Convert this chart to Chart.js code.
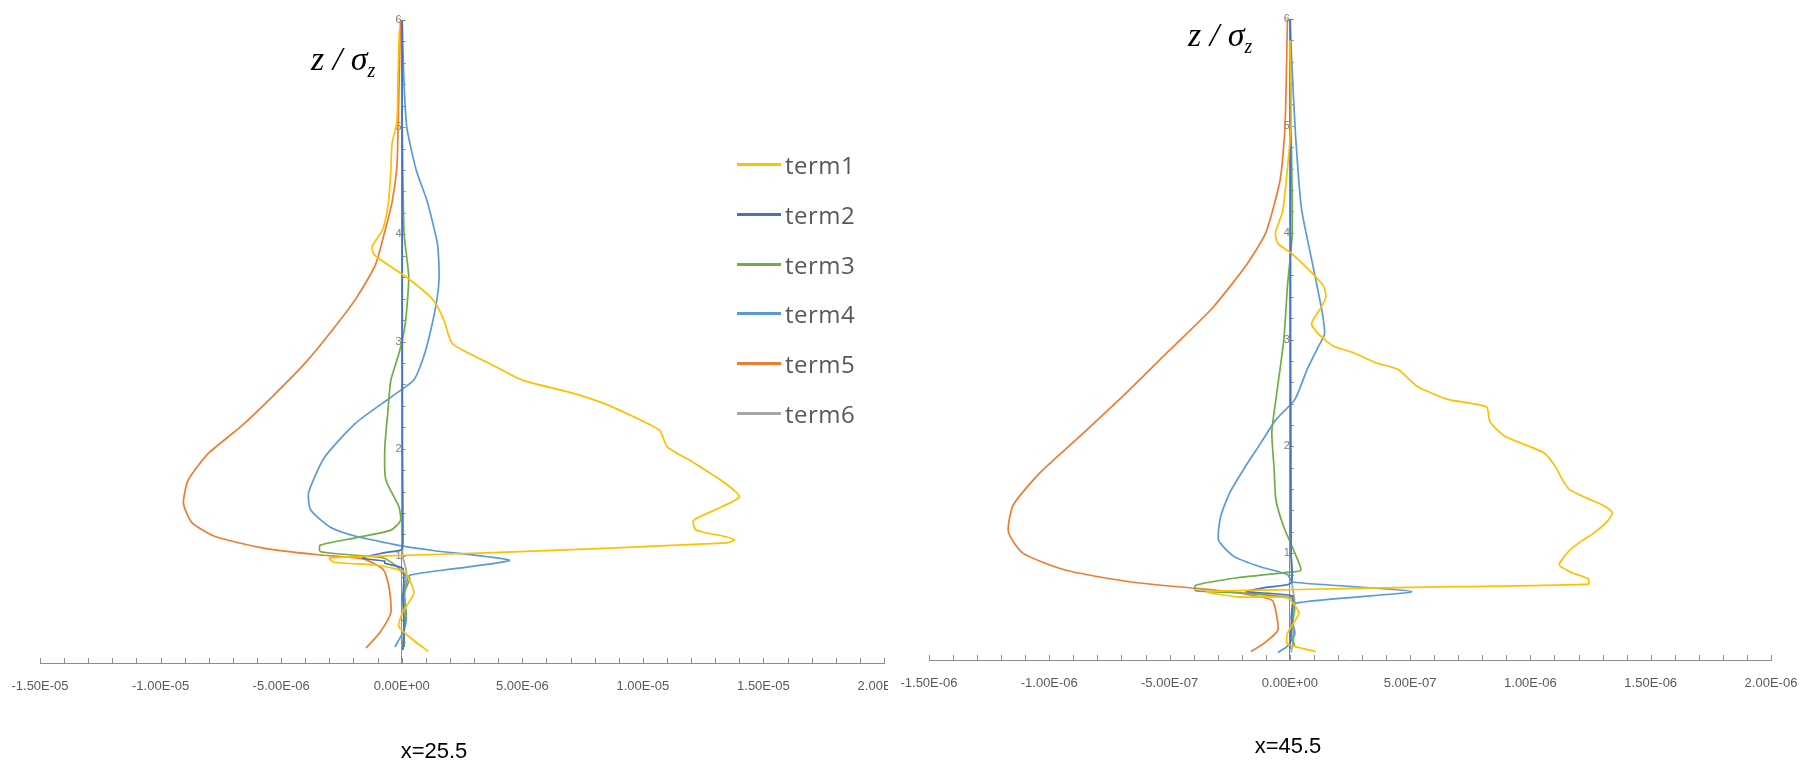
<!DOCTYPE html>
<html>
<head>
<meta charset="utf-8">
<script src="https://cdn.jsdelivr.net/npm/chart.js@4.4.0/dist/chart.umd.min.js"></script>
<style>
  html, body { margin: 0; padding: 0; background: #fff; }
  #page { position: relative; width: 1806px; height: 764px; overflow: hidden; background: #fff; }
  canvas { position: absolute; top: 0; }
  #c25 { left: 0; }
  #c45 { left: 888px; }
  .zlabel { position: absolute; font-family: 'Liberation Serif', 'DejaVu Serif', serif; font-style: italic;
            font-size: 34px; line-height: 1; color: #000; white-space: nowrap; }
  .zlabel sub { font-size: 20px; vertical-align: -7px; }
  .caption { position: absolute; font-family: 'Liberation Sans', Arial, sans-serif; font-size: 22px;
             line-height: 1; color: #000; white-space: nowrap; transform: translateX(-50%); }
  #legend { position: absolute; left: 737px; top: 0; font-family: 'Open Sans', sans-serif;
            font-size: 24px; color: #595959; letter-spacing: 0.5px; }
  #legend .row { position: absolute; left: 0; height: 32px; display: flex; align-items: center; white-space: nowrap; }
  #legend .swatch { width: 44px; height: 3px; margin-right: 4px; }
</style>
</head>
<body>
<div id="page">
  <canvas id="c25" width="888" height="764"></canvas>
  <canvas id="c45" width="918" height="764"></canvas>
  <div class="zlabel" style="left:311px; top:42px;">z / σ<sub>z</sub></div>
  <div class="zlabel" style="left:1188px; top:18px;">z / σ<sub>z</sub></div>
  <div class="caption" style="left:434px; top:740px;">x=25.5</div>
  <div class="caption" style="left:1288px; top:735px;">x=45.5</div>
  <div id="legend"></div>
</div>
<script>
// ---- series names and colours ----
const termLabels = ['term1', 'term2', 'term3', 'term4', 'term5', 'term6'];
const termColors = ['#FFC000', '#4472C4', '#70AD47', '#5B9BD5', '#ED7D31', '#A5A5A5'];

// ---- x = 25.5 : profiles, z/sigma_z and value (in units of 1e-6) ----
const unit25 = 1e-6;
const t1z_25 = [5.9, 5.5, 5.05, 4.85, 4.6, 4.3, 4.05, 3.88, 3.8, 3.6, 3.39, 3.2, 2.98, 2.8, 2.64, 2.53, 2.43, 2.3, 2.17, 2.02, 1.87, 1.68, 1.55, 1.43, 1.33, 1.24, 1.18, 1.15, 1.12, 1.03, 1.0, 0.98, 0.94, 0.91, 0.85, 0.77, 0.65, 0.47, 0.34, 0.21, 0.11];
const t1v_25 = [-0.1, -0.15, -0.2, -0.4, -0.45, -0.55, -0.78, -1.24, -1.1, 0.2, 1.3, 1.75, 2.1, 3.6, 5.0, 6.9, 8.3, 9.6, 10.7, 11.0, 12.1, 13.4, 14.0, 13.0, 12.1, 12.2, 13.4, 13.8, 13.5, 3.8, -0.6, -3.0, -2.8, -0.9, 0.1, 0.34, 0.5, 0.03, -0.12, 0.5, 1.1];
const t2z_25 = [6.0, 4.0, 2.0, 1.2, 1.06, 1.03, 0.98, 0.95, 0.93, 0.88, 0.6, 0.3, 0.12];
const t2v_25 = [0.02, 0.02, 0.03, 0.05, 0.0, -0.7, -1.65, -0.7, -0.7, 0.05, 0.05, 0.1, 0.05];
const t3z_25 = [6.0, 5.0, 4.5, 4.0, 3.6, 3.17, 2.9, 2.64, 2.33, 2.01, 1.71, 1.46, 1.33, 1.24, 1.17, 1.1, 1.04, 1.01, 0.98, 0.9, 0.84, 0.79, 0.62, 0.47, 0.3, 0.15];
const t3v_25 = [0.0, 0.02, 0.05, 0.1, 0.29, 0.15, -0.1, -0.45, -0.58, -0.7, -0.66, -0.12, -0.05, -0.45, -1.87, -3.38, -3.38, -2.19, -0.76, -0.2, 0.03, 0.34, 0.03, 0.19, 0.1, 0.11];
const t4z_25 = [6.0, 5.5, 5.0, 4.6, 4.32, 4.0, 3.88, 3.6, 3.39, 3.1, 2.85, 2.64, 2.48, 2.24, 1.92, 1.59, 1.43, 1.27, 1.18, 1.12, 1.09, 1.05, 0.96, 0.88, 0.82, 0.75, 0.62, 0.4, 0.28, 0.15];
const t4v_25 = [0.02, 0.08, 0.21, 0.6, 1.04, 1.4, 1.5, 1.55, 1.46, 1.2, 0.9, 0.5, -0.45, -1.9, -3.2, -3.86, -3.78, -2.98, -1.87, -0.6, 0.05, 1.3, 4.47, 2.2, 0.34, 0.2, 0.11, 0.19, 0.03, -0.28];
const t5z_25 = [6.0, 5.5, 5.0, 4.63, 4.3, 4.01, 3.71, 3.4, 3.1, 2.8, 2.5, 2.2, 1.96, 1.71, 1.49, 1.31, 1.18, 1.07, 1.01, 0.97, 0.87, 0.71, 0.47, 0.28, 0.14];
const t5v_25 = [-0.05, -0.1, -0.15, -0.2, -0.4, -0.72, -1.1, -1.9, -2.9, -4.0, -5.3, -6.7, -8.0, -8.85, -9.05, -8.7, -7.74, -5.68, -3.47, -1.57, -0.76, -0.53, -0.45, -0.92, -1.48];
const t6z_25 = [6.0, 4.0, 2.0, 1.0, 0.85, 0.7, 0.5, 0.3, 0.12];
const t6v_25 = [0.0, 0.01, 0.02, 0.04, 0.2, 0.1, 0.15, 0.08, 0.02];

// ---- x = 45.5 : profiles, z/sigma_z and value (in units of 1e-7) ----
const unit45 = 1e-7;
const t1z_45 = [5.8, 5.3, 5.0, 4.6, 4.2, 4.0, 3.9, 3.8, 3.65, 3.5, 3.4, 3.3, 3.15, 3.05, 2.94, 2.88, 2.78, 2.72, 2.56, 2.44, 2.37, 2.24, 2.18, 2.09, 1.94, 1.81, 1.7, 1.6, 1.52, 1.45, 1.38, 1.3, 1.2, 1.11, 1.02, 0.89, 0.82, 0.76, 0.71, 0.68, 0.66, 0.64, 0.59, 0.58, 0.44, 0.25, 0.15, 0.08];
const t1v_45 = [0.0, 0.05, 0.05, -0.1, -0.3, -0.6, -0.5, 0.1, 0.8, 1.4, 1.5, 1.3, 0.9, 1.2, 1.8, 2.6, 3.6, 4.5, 5.3, 6.57, 8.17, 8.3, 8.5, 8.97, 10.56, 11.04, 11.3, 11.6, 12.3, 13.0, 13.4, 13.2, 12.7, 12.1, 11.6, 11.2, 11.7, 12.4, 12.4, 5.0, 0.37, -3.45, -2.16, -0.1, 0.37, -0.1, -0.1, 1.08];
const t2z_45 = [6.0, 3.0, 1.0, 0.72, 0.68, 0.64, 0.6, 0.5, 0.3, 0.1];
const t2v_45 = [0.02, 0.03, 0.05, 0.05, -1.0, -1.8, 0.1, 0.1, 0.05, 0.0];
const t3z_45 = [6.0, 5.0, 4.0, 3.5, 3.0, 2.44, 2.13, 1.81, 1.5, 1.25, 1.0, 0.84, 0.82, 0.77, 0.7, 0.65, 0.63, 0.58, 0.5, 0.25, 0.13];
const t3v_45 = [0.0, 0.05, 0.1, -0.1, -0.25, -0.58, -0.75, -0.66, -0.58, -0.26, 0.21, 0.46, -0.1, -2.16, -3.92, -3.92, -2.16, 0.06, 0.21, 0.06, 0.2];
const t4z_45 = [6.0, 5.5, 4.9, 4.23, 3.69, 3.26, 3.05, 2.94, 2.72, 2.44, 2.25, 2.03, 1.81, 1.57, 1.34, 1.12, 0.97, 0.87, 0.8, 0.73, 0.64, 0.53, 0.4, 0.25, 0.13, 0.07];
const t4v_45 = [0.0, 0.1, 0.24, 0.48, 0.96, 1.34, 1.44, 1.2, 0.72, 0.21, -0.58, -1.21, -1.85, -2.49, -2.88, -2.96, -2.33, -1.2, -0.1, 0.12, 5.07, 0.21, 0.06, 0.21, -0.1, -0.5];
const t5z_45 = [6.0, 5.0, 4.5, 4.0, 3.7, 3.3, 2.9, 2.5, 2.1, 1.75, 1.45, 1.2, 1.0, 0.84, 0.73, 0.67, 0.63, 0.56, 0.44, 0.28, 0.16, 0.08];
const t5v_45 = [-0.1, -0.2, -0.4, -1.0, -1.8, -3.2, -5.0, -6.8, -8.7, -10.4, -11.5, -11.7, -11.1, -9.3, -6.6, -3.9, -2.2, -0.74, -0.57, -0.5, -1.05, -1.62];
const t6z_45 = [6.0, 4.0, 2.0, 1.0, 0.7, 0.55, 0.4, 0.2, 0.07];
const t6v_45 = [0.0, 0.01, 0.02, 0.05, 0.1, 0.2, 0.1, 0.15, 0.05];

// ---- axis ranges and tick steps ----
const xRange25 = [-1.5e-5, 2.0e-5], xStep25 = 1e-6;
const xRange45 = [-1.5e-6, 2.0e-6], xStep45 = 1e-7;
const zRange = [0, 6], zStep = 0.2;
const majorEvery = 5;

// scientific labels in the "1.50E-05" style
function sci(v) {
  if (Math.abs(v) < 1e-20) return '0.00E+00';
  const parts = v.toExponential(2).split('e');
  const e = parseInt(parts[1], 10);
  return parts[0] + 'E' + (e < 0 ? '-' : '+') + String(Math.abs(e)).padStart(2, '0');
}

function stepValues(lo, hi, step) {
  const n = Math.round((hi - lo) / step);
  const out = [];
  for (let i = 0; i <= n; i++) out.push(Number((lo + i * step).toPrecision(12)));
  return out;
}

// the axes cross inside the plot, so their labels must not shrink the plot area
function noLabelPadding(scale) {
  scale.paddingLeft = 0;
  scale.paddingRight = 0;
  scale.paddingTop = 0;
  scale.paddingBottom = 0;
}

// short tick marks: upward on the horizontal axis, to the right on the vertical one
const axisTickMarks = {
  id: 'axisTickMarks',
  beforeDatasetsDraw(chart) {
    const { ctx } = chart;
    const xs = chart.scales.x, ys = chart.scales.y;
    const baseY = ys.getPixelForValue(0);
    const baseX = xs.getPixelForValue(0);
    ctx.save();
    ctx.strokeStyle = '#8c8c8c';
    ctx.lineWidth = 1;
    ctx.beginPath();
    xs.ticks.forEach(t => {
      const px = Math.round(xs.getPixelForValue(t.value)) + 0.5;
      ctx.moveTo(px, baseY);
      ctx.lineTo(px, baseY - 5);
    });
    ys.ticks.forEach(t => {
      if (t.value <= 0) return;
      const py = Math.round(ys.getPixelForValue(t.value)) + 0.5;
      ctx.moveTo(baseX, py);
      ctx.lineTo(baseX + 4, py);
    });
    ctx.stroke();
    ctx.restore();
  }
};

function buildSeries(zs, vs, unit) {
  return zs.map((z, k) => ({
    label: termLabels[k],
    borderColor: termColors[k],
    backgroundColor: termColors[k],
    data: z.map((zz, i) => ({ x: vs[k][i] * unit, y: zz })),
    showLine: true,
    borderWidth: 1.7,
    tension: 0.2,
    pointRadius: 0,
    pointHoverRadius: 0
  }));
}

function makeChart(canvasId, datasets, xRange, xStep, padding) {
  const xTicks = stepValues(xRange[0], xRange[1], xStep);
  const zTicks = stepValues(zRange[0], zRange[1], zStep);
  return new Chart(document.getElementById(canvasId), {
    type: 'scatter',
    data: { datasets },
    options: {
      responsive: false,
      animation: false,
      devicePixelRatio: 1,
      layout: { autoPadding: false, padding },
      plugins: { legend: { display: false }, tooltip: { enabled: false } },
      scales: {
        x: {
          type: 'linear',
          position: { y: 0 },
          min: xRange[0],
          max: xRange[1],
          afterBuildTicks: s => { s.ticks = xTicks.map(v => ({ value: v })); },
          afterFit: noLabelPadding,
          ticks: {
            autoSkip: false,
            maxRotation: 0,
            minRotation: 0,
            padding: 16,
            color: '#595959',
            font: { family: "'Liberation Sans', Arial, sans-serif", size: 13 },
            callback: (v, i) => (i % majorEvery === 0 ? sci(v) : '')
          },
          grid: { display: true, drawOnChartArea: false, drawTicks: false },
          border: { display: true, color: '#8c8c8c', width: 1 }
        },
        y: {
          type: 'linear',
          position: { x: 0 },
          min: zRange[0],
          max: zRange[1],
          afterBuildTicks: s => { s.ticks = zTicks.map(v => ({ value: v })); },
          afterFit: noLabelPadding,
          ticks: {
            autoSkip: false,
            padding: 0,
            color: '#7f7f7f',
            font: { family: "'Liberation Sans', Arial, sans-serif", size: 11 },
            callback: v => {
              const r = Math.round(v);
              return (Math.abs(v - r) < 1e-9 && r > 0) ? String(r) : '';
            }
          },
          grid: { display: true, drawOnChartArea: false, drawTicks: false },
          border: { display: true, color: '#8c8c8c', width: 1 }
        }
      }
    },
    plugins: [axisTickMarks]
  });
}

const chart25 = makeChart('c25',
  buildSeries([t1z_25, t2z_25, t3z_25, t4z_25, t5z_25, t6z_25],
              [t1v_25, t2v_25, t3v_25, t4v_25, t5v_25, t6v_25], unit25),
  xRange25, xStep25, { left: 40, right: 4, top: 20, bottom: 101 });

const chart45 = makeChart('c45',
  buildSeries([t1z_45, t2z_45, t3z_45, t4z_45, t5z_45, t6z_45],
              [t1v_45, t2v_45, t3v_45, t4v_45, t5v_45, t6v_45], unit45),
  xRange45, xStep45, { left: 41, right: 35, top: 19, bottom: 104 });

// legend built from the first chart's datasets
const legendRowsY = [164, 214, 264, 313, 363, 413];
const legendEl = document.getElementById('legend');
chart25.data.datasets.forEach((ds, i) => {
  const row = document.createElement('div');
  row.className = 'row';
  row.style.top = (legendRowsY[i] - 16) + 'px';
  const sw = document.createElement('span');
  sw.className = 'swatch';
  sw.style.background = ds.borderColor;
  const tx = document.createElement('span');
  tx.textContent = ds.label;
  row.appendChild(sw);
  row.appendChild(tx);
  legendEl.appendChild(row);
});
</script>
</body>
</html>
